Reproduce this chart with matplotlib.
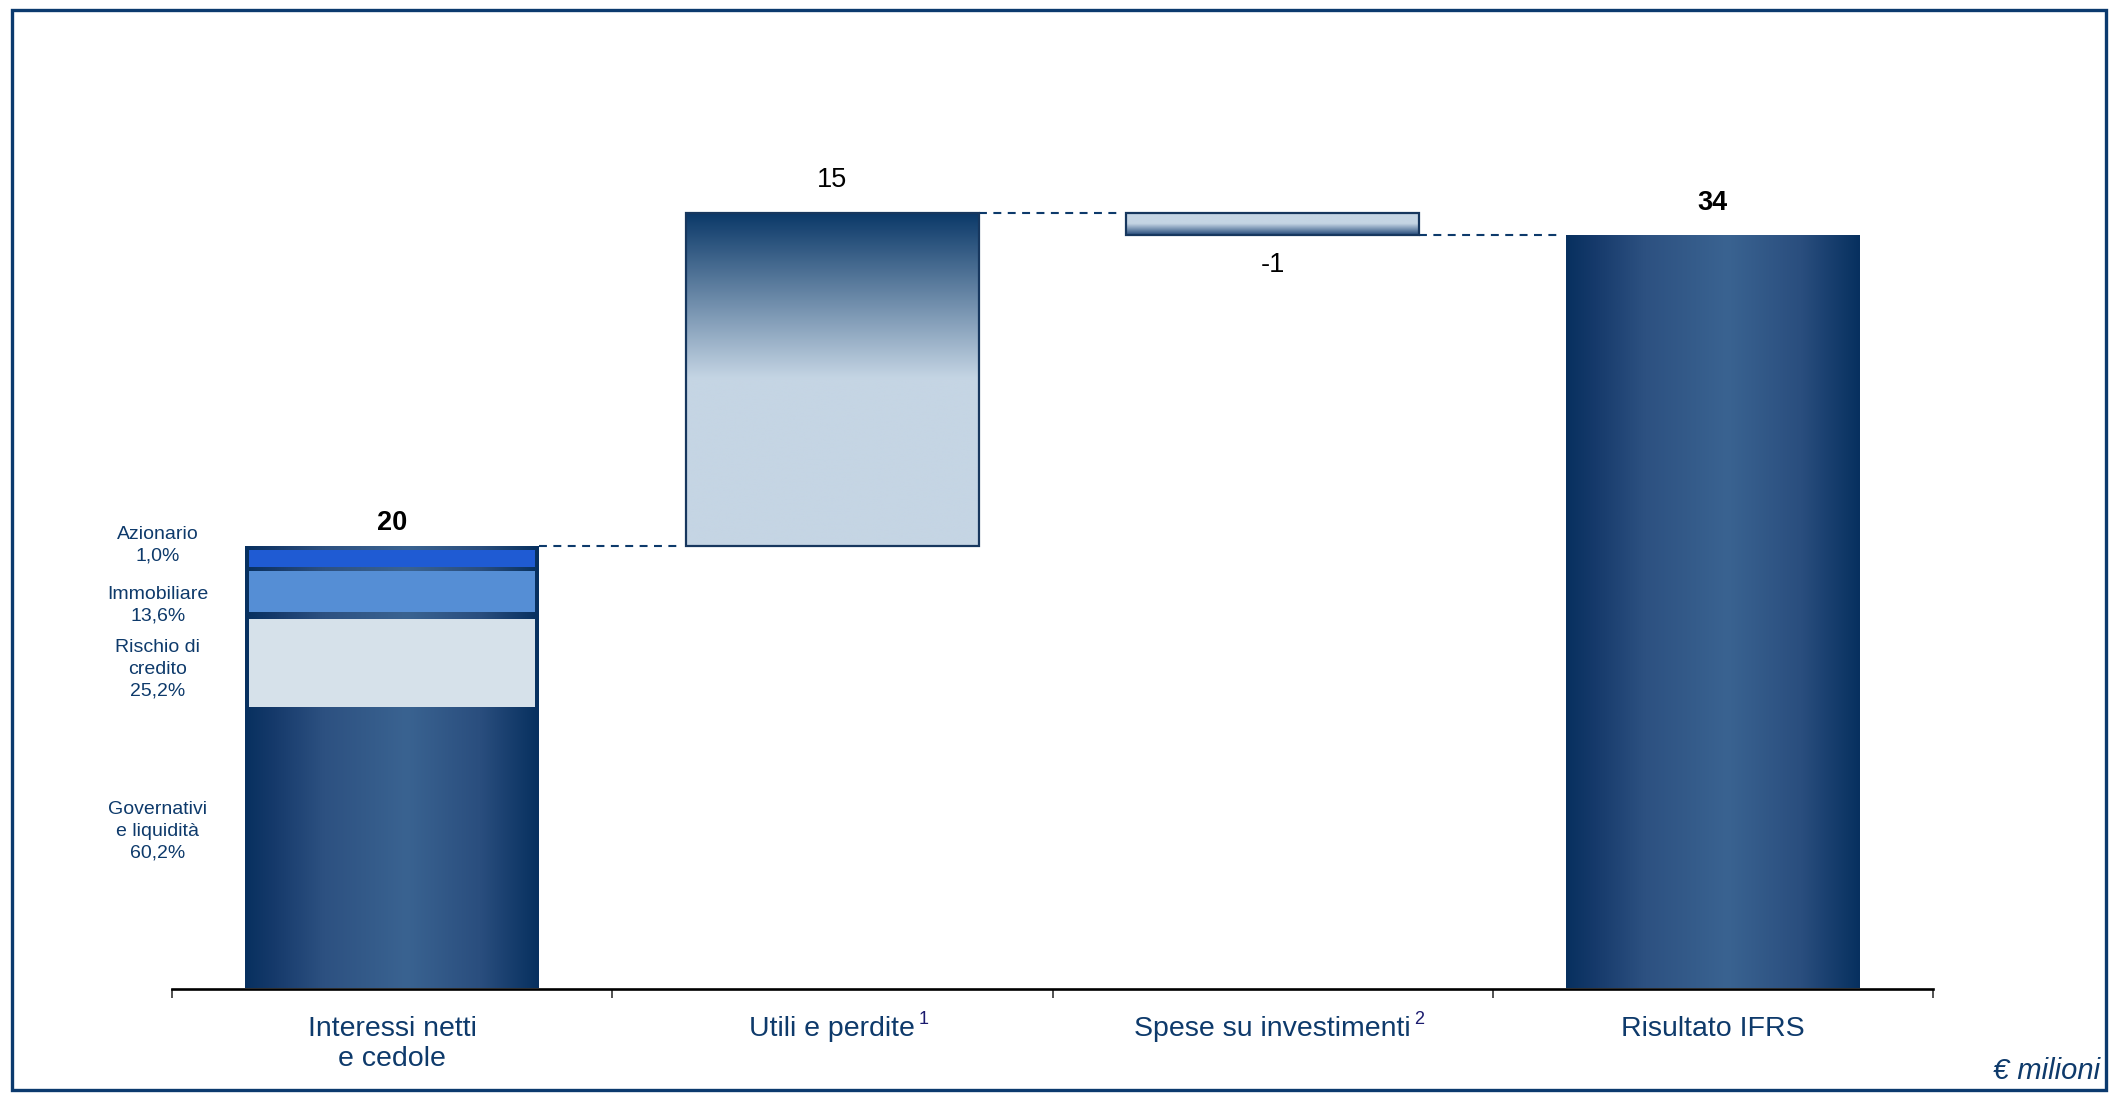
#Waterfall: Interessi netti -> Risultato IFRS
import matplotlib
matplotlib.use('Agg')
import matplotlib.pyplot as plt
import numpy as np
from matplotlib.colors import LinearSegmentedColormap
from matplotlib.patches import Rectangle

plt.rcParams['font.family'] = ['Liberation Sans', 'DejaVu Sans']

#data (€ milioni)
categories = ['Interessi netti\ne cedole', 'Utili e perdite', 'Spese su investimenti', 'Risultato IFRS']
footnotes = ['', '1', '2', '']
steps = [20, 15, -1]
total = 34
value_labels = ['20', '15', '-1', '34']

#breakdown of the first bar (levels as drawn, € milioni)
seg_names = ['Governativi\ne liquidità\n60,2%', 'Rischio di\ncredito\n25,2%', 'Immobiliare\n13,6%', 'Azionario\n1,0%']
seg_lo = [0, 12.7, 17.0, 19.05]
seg_hi = [12.45, 16.7, 18.85, 19.8]
seg_label_y = [7.1, 14.4, 17.3, 20.0]

navy = '#0e3a6b'

fig = plt.figure(figsize=(21.1, 10.93), dpi=100)
W, H = 2110, 1093
ax = fig.add_axes([172/W, (H-988.5)/H, (1933-172)/W, 40*22.15/H])

#waterfall geometry from the data
cum = np.cumsum(steps)
bottoms = [0, steps[0], cum[2], 0]
heights = [steps[0], steps[1], cum[1]-cum[2], total]
x = np.arange(len(categories))
width = 0.667

bars = ax.bar(x, heights, bottom=bottoms, width=width, color='none', edgecolor='none', zorder=2)

#gradients
horiz = LinearSegmentedColormap.from_list('h', [(0, '#07305f'), (0.1, '#163a6b'), (0.27, '#2d5181'),
                                                (0.55, '#3a6391'), (0.8, '#2a4e7e'), (1, '#07305f')])
down = LinearSegmentedColormap.from_list('d', [(0, '#c5d5e4'), (0.5, '#c5d5e4'), (1, '#0a3868')])
up = LinearSegmentedColormap.from_list('u', [(0, '#244a7a'), (0.5, '#c5d5e4'), (1, '#c5d5e4')])
grad_h = np.linspace(0, 1, 256).reshape(1, -1)
grad_v = np.linspace(0, 1, 256).reshape(-1, 1)
styles = [(grad_h, horiz), (grad_v, down), (grad_v, up), (grad_h, horiz)]

for b, (g, cm) in zip(bars, styles):
    x0, y0, w, h = b.get_x(), b.get_y(), b.get_width(), b.get_height()
    im = ax.imshow(g, cmap=cm, extent=(x0, x0+w, y0, y0+h), origin='lower',
                   aspect='auto', interpolation='bicubic', zorder=1)
    im.set_clip_path(b)

#outlines for the middle bars
for i in [1, 2]:
    b = bars[i]
    ax.add_patch(Rectangle((b.get_x(), b.get_y()), b.get_width(), b.get_height(),
                           fill=False, edgecolor='#17375e', lw=1.6, zorder=3))

#breakdown segments inside the first bar
seg_colors = ['none', '#d6e1ea', '#558ed5', '#1f5bd3']
for lo, hi, c in zip(seg_lo[1:], seg_hi[1:], seg_colors[1:]):
    ax.bar(0, hi-lo, bottom=lo, width=0.649, color=c, edgecolor='none', zorder=3)
for name, yy in zip(seg_names, seg_label_y):
    ax.text(-0.532, yy, name, ha='center', va='center', fontsize=14, color=navy,
            linespacing=1.35, clip_on=False)

#connectors
levels = [cum[0], cum[1], total]
for i, lev in enumerate(levels):
    ax.plot([x[i]+width/2, x[i+1]-width/2-0.015], [lev, lev], color='#0d3a6b',
            lw=1.5, dashes=(3.8, 3.1), zorder=2)

#value labels
offsets = [16, 24, -21, 23]
for i, b in enumerate(bars):
    top = b.get_y() + b.get_height()
    yv = top if offsets[i] > 0 else b.get_y()
    ax.annotate(value_labels[i], (x[i], yv), xytext=(0, offsets[i]), textcoords='offset points',
                ha='center', va='center', fontsize=19.5, color='black',
                fontweight='bold' if i in (0, 3) else 'normal')

ax.set_xlim(-0.5, 3.5)
ax.set_ylim(0, 40)
for s in ['left', 'right', 'top']:
    ax.spines[s].set_visible(False)
ax.spines['bottom'].set_linewidth(1.9)
ax.spines['bottom'].set_zorder(4)
ax.set_yticks([])
ax.set_xticks(np.arange(-0.5, 4, 1))
ax.set_xticklabels([])
ax.tick_params(axis='x', which='major', length=6.5, width=1.1, color='#222222', direction='out')
ax.set_xticks(x, minor=True)
ax.set_xticklabels(categories, minor=True, fontsize=20.5, color=navy, linespacing=1.2)
ax.tick_params(axis='x', which='minor', length=0, pad=20)

#footnote marks
fig.canvas.draw()
r = fig.canvas.get_renderer()
for lab, fn in zip(ax.get_xticklabels(minor=True), footnotes):
    if fn:
        bb = lab.get_window_extent(r)
        px, py = fig.transFigure.inverted().transform((bb.x1 + 3, bb.y1 - 3))
        fig.text(px, py, fn, fontsize=13, color='#1a1a6e', ha='left', va='center')

fig.text(2100/W, 1-1071/H, '€ milioni', fontsize=21, style='italic', color=navy, ha='right', va='center')

#frame
fig.patches.append(Rectangle((12/W, 1-1090/H), (2106-12)/W, (1090-10)/H, transform=fig.transFigure,
                             fill=False, edgecolor='#0b3a6e', lw=2.4))

plt.savefig('out.png', dpi=100)
